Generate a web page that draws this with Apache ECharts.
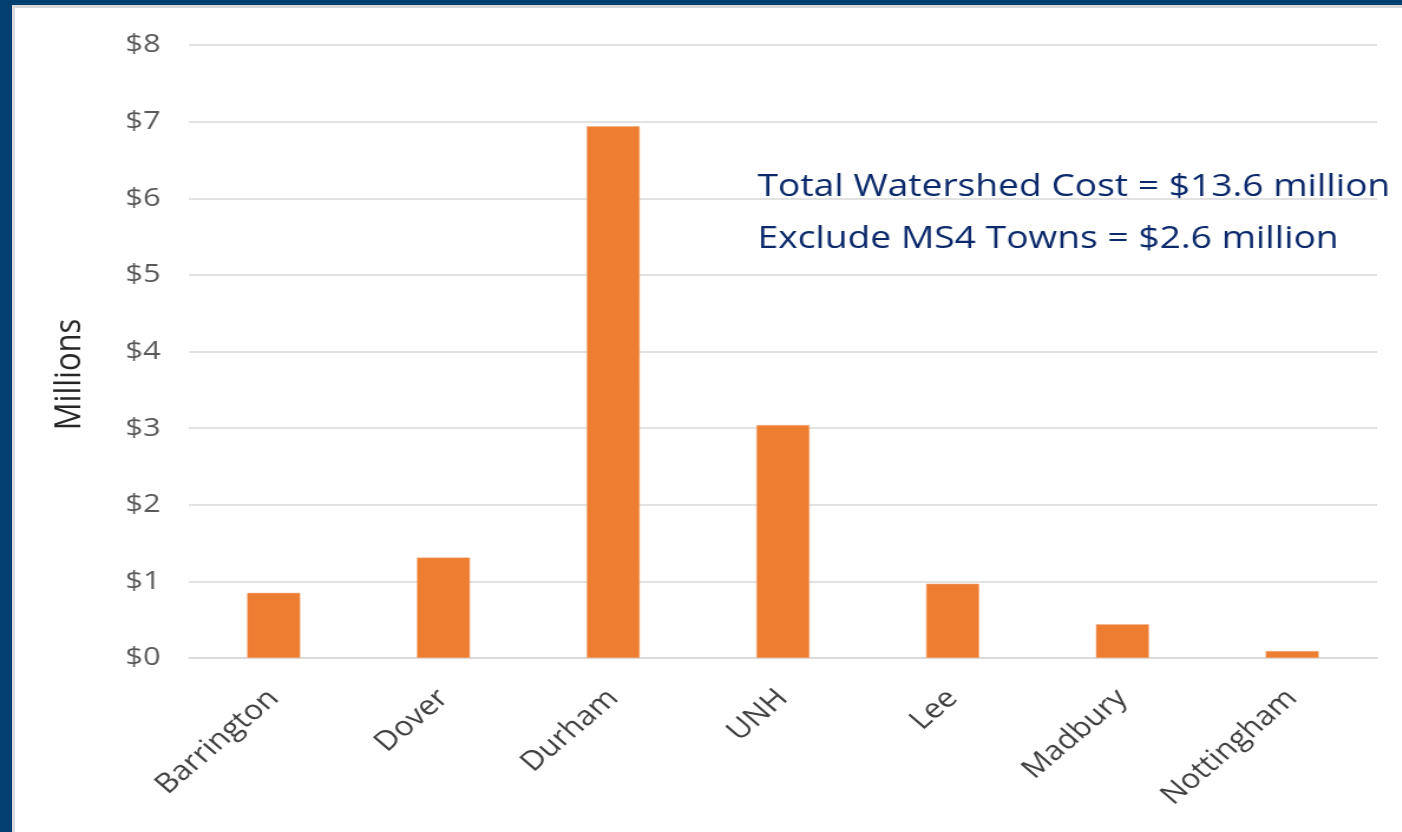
<!DOCTYPE html>
<html>
<head>
<meta charset="utf-8">
<script src="https://cdn.jsdelivr.net/npm/echarts@6/dist/echarts.min.js"></script>
<style>
  html, body { margin: 0; padding: 0; width: 1402px; height: 832px; overflow: hidden; background: #033f70; }
  #panel { position: absolute; left: 12px; top: 5px; right: 0; bottom: 0; background: #ffffff; border-left: 3px solid #d9d9d9; border-top: 3px solid #d9d9d9; }
  /* the slide graphic is widened horizontally, so the chart is drawn narrower and stretched */
  #chart { position: absolute; left: 0; top: 0; width: 1188px; height: 832px; transform-origin: 0 0; transform: scaleX(1.18); }
</style>
</head>
<body>
<div id="panel"></div>
<div id="chart"></div>
<script>
// Stormwater cost by municipality, in millions of dollars
const towns = ['Barrington', 'Dover', 'Durham', 'UNH', 'Lee', 'Madbury', 'Nottingham'];
const costMillions = [0.85, 1.31, 6.94, 3.04, 0.97, 0.44, 0.09];
const yTicks = [0, 1, 2, 3, 4, 5, 6, 7, 8];
const noteLines = ['Total Watershed Cost = $13.6 million', 'Exclude MS4 Towns = $2.6 million'];

const chart = echarts.init(document.getElementById('chart'), null, { renderer: 'canvas' });
const labelFont = '"Open Sans", "Liberation Sans", sans-serif';

chart.setOption({
  backgroundColor: 'transparent',
  animation: false,
  grid: { left: 160, right: 21, top: 45, bottom: 174, containLabel: false },
  xAxis: {
    type: 'category',
    data: towns,
    axisLine: { show: true, lineStyle: { color: '#d9d9d9', width: 1.5 } },
    axisTick: { show: false },
    axisLabel: { rotate: 45, margin: 36, fontSize: 27, color: '#404040', fontFamily: labelFont, interval: 0 }
  },
  yAxis: {
    type: 'value',
    min: yTicks[0],
    max: yTicks[yTicks.length - 1],
    interval: 1,
    name: 'Millions',
    nameLocation: 'middle',
    nameGap: 85,
    nameRotate: 90,
    nameTextStyle: { fontSize: 31, color: '#262626', fontFamily: labelFont, padding: [0, 46, 0, 0] },
    axisLine: { show: false },
    axisTick: { show: false },
    splitLine: { lineStyle: { color: '#d9d9d9', width: 1.5 } },
    axisLabel: { margin: 24, fontSize: 26, color: '#595959', fontFamily: labelFont, formatter: v => '$' + v }
  },
  series: [{
    type: 'bar',
    data: costMillions,
    barWidth: 45,
    itemStyle: { color: '#ed7d31', borderColor: '#f4b183', borderWidth: 0.5 }
  }],
  graphic: [{
    type: 'text',
    left: 642,
    top: 161,
    style: {
      text: noteLines.join('\n'),
      font: '31.5px "Open Sans", "Liberation Sans", sans-serif',
      lineHeight: 52,
      fill: '#0c2a6b'
    }
  }]
});
</script>
</body>
</html>
